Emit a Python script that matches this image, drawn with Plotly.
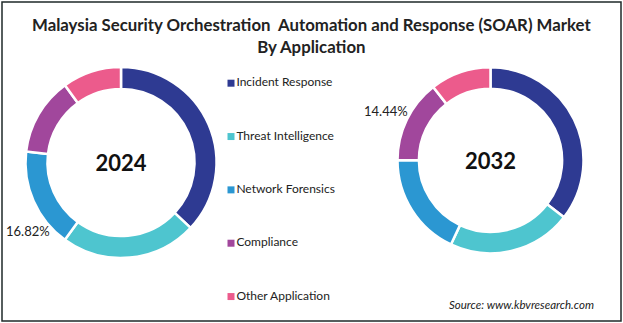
import plotly.graph_objects as go

W, H = 623, 323

categories = ["Incident Response", "Threat Intelligence", "Network Forensics", "Compliance", "Other Application"]
share_2024 = [37.0, 23.0, 16.82, 13.2, 9.98]
share_2032 = [35.5, 21.5, 18.0, 14.44, 10.56]
colors = ["#2e3a92", "#4ec5cf", "#2b97d2", "#a1479c", "#ec5b8c"]

TITLE = "Malaysia Security Orchestration  Automation and Response (SOAR) Market<br>By Application"
SOURCE = "Source: www.kbvresearch.com"

def px_dom_x(a, b):
    return [a / W, b / W]

def px_dom_y(top, bottom):
    return [1 - bottom / H, 1 - top / H]

fig = go.Figure()

common = dict(
    labels=categories,
    hole=0.77,
    sort=False,
    direction="clockwise",
    rotation=0,
    textinfo="none",
    showlegend=False,
    hoverinfo="label+percent",
    marker=dict(colors=colors, line=dict(color="white", width=2.5)),
)

fig.add_trace(go.Pie(
    values=share_2024,
    domain=dict(x=px_dom_x(25.5, 216.5), y=px_dom_y(67, 258)),
    title=dict(text="<b>2024</b>", position="middle center",
               font=dict(family="Lato", size=22, color="#111111")),
    **common,
))
fig.add_trace(go.Pie(
    values=share_2032,
    domain=dict(x=px_dom_x(397.5, 583.5), y=px_dom_y(67.3, 253.3)),
    title=dict(text="<b>2032</b>", position="middle center",
               font=dict(family="Lato", size=22, color="#111111")),
    **common,
))

# Legend drawn as a scatter on a hidden axis: one row per category
fig.add_trace(go.Scatter(
    x=[231] * len(categories),
    y=list(range(len(categories))),
    mode="markers+text",
    marker=dict(symbol="square", size=7, color=colors),
    text=categories,
    textposition="middle right",
    textfont=dict(family="Lato", size=12, color="#222222"),
    hoverinfo="skip",
    showlegend=False,
    cliponaxis=False,
))

fig.update_layout(
    width=W, height=H,
    margin=dict(l=0, r=0, t=0, b=0),
    paper_bgcolor="white",
    plot_bgcolor="rgba(0,0,0,0)",
    xaxis=dict(range=[0, W], domain=[0, 1], visible=False, fixedrange=True),
    yaxis=dict(range=[4.496, -1.56], domain=[0, 1], visible=False, fixedrange=True),
    annotations=[
        dict(text="<b>" + TITLE + "</b>", x=0.5, y=1 - 36 / H, xref="paper", yref="paper",
             xanchor="center", yanchor="middle", showarrow=False,
             font=dict(family="Lato", size=16.8, color="#222222")),
        dict(text="16.82%", x=52 / W, y=1 - 231 / H, xref="paper", yref="paper",
             xanchor="right", yanchor="middle", showarrow=False,
             font=dict(family="Lato", size=13, color="#222222")),
        dict(text="14.44%", x=410 / W, y=1 - 111 / H, xref="paper", yref="paper",
             xanchor="right", yanchor="middle", showarrow=False,
             font=dict(family="Lato", size=13, color="#222222")),
        dict(text="<i>" + SOURCE + "</i>", x=596 / W, y=1 - 304 / H, xref="paper", yref="paper",
             xanchor="right", yanchor="middle", showarrow=False,
             font=dict(family="Lato", size=11.5, color="#222222")),
    ],
    shapes=[
        dict(type="rect", xref="paper", yref="paper",
             x0=2 / W, x1=621 / W, y0=2 / H, y1=1 - 2 / H,
             line=dict(color="#1f2a2a", width=1.5), fillcolor="rgba(0,0,0,0)", layer="below"),
    ],
)

fig.write_html("out.html", config={"displayModeBar": False})
